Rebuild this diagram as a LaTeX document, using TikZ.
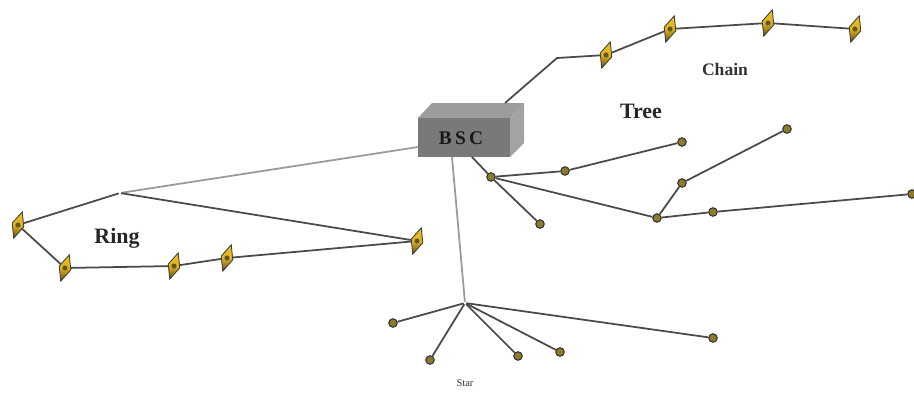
\documentclass[tikz,border=0pt]{standalone}
\usepackage{fontspec}
\setmainfont{Liberation Serif}
\usetikzlibrary{shapes.geometric}
\definecolor{gold}{HTML}{E2B322}
\definecolor{golddark}{HTML}{5E4A12}
\definecolor{olivenode}{HTML}{8C7A2E}
\definecolor{linkdark}{HTML}{4A4A4A}
\definecolor{linklight}{HTML}{9A9A9A}
\tikzset{
  dnode/.style={diamond, aspect=0.45, minimum width=0.25cm, minimum height=0.56cm, inner sep=0pt,
    rotate=-18, top color=gold!80!yellow, bottom color=golddark, middle color=gold, draw=black!75, line width=0.5pt,
    path picture={\fill[olivenode!70!black] (path picture bounding box.center) circle (1.5pt);}},
  cnode/.style={circle, minimum size=0.17cm, inner sep=0pt, fill=olivenode, draw=black!80, line width=0.6pt},
  hub/.style={inner sep=0pt, minimum size=1pt},
  link/.style={draw=linkdark, line width=1pt},
  lightlink/.style={draw=linklight, line width=1pt},
  lbl/.style={font=\bfseries, text=black!85},
}
\begin{document}
\begin{tikzpicture}[x=0.02cm, y=-0.02cm]
\useasboundingbox (0,0) rectangle (914,393);
% BSC box
\fill[gray!78] (418,118) -- (432,103) -- (524,103) -- (510,118) -- cycle;
\fill[gray!72] (510,118) -- (524,103) -- (524,143) -- (510,157) -- cycle;
\fill[gray!95!black] (418,118) rectangle (510,157);
\node[font=\bfseries\fontsize{11}{11}\selectfont, text=black!90] (bsc) at (461,138) {B\,S\,C};
\coordinate (bscTR) at (505,103);
\coordinate (bscL) at (418,147);
\coordinate (bscB1) at (452,157);
\coordinate (bscB2) at (472,157);
% Chain
\coordinate (cbend) at (557,58);
\node[dnode] (c1) at (606,55) {};
\node[dnode] (c2) at (670,29) {};
\node[dnode] (c3) at (768,23) {};
\node[dnode] (c4) at (855,29) {};
\draw[link] (bscTR) -- (cbend) -- (c1) -- (c2) -- (c3) -- (c4);
\node[font=\fontsize{10}{10}\selectfont\bfseries, text=black!80] (chainl) at (725,69) {Chain};
% Ring
\node[hub] (rj) at (120,193) {};
\node[dnode] (r1) at (18,225) {};
\node[dnode] (r2) at (65,268) {};
\node[dnode] (r3) at (174,266) {};
\node[dnode] (r4) at (227,258) {};
\node[dnode] (r5) at (417,241) {};
\draw[lightlink] (bscL) -- (rj);
\draw[link] (rj) -- (r1);
\draw[link] (rj) -- (r5);
\draw[link] (r1) -- (r2) -- (r3) -- (r4) -- (r5);
\node[lbl, font=\bfseries\fontsize{12.5}{12.5}\selectfont] (ringl) at (117,238) {Ring};
% Star
\node[hub] (sc) at (465,303) {};
\node[cnode] (s1) at (393,323) {};
\node[cnode] (s2) at (430,360) {};
\node[cnode] (s3) at (518,356) {};
\node[cnode] (s4) at (560,352) {};
\node[cnode] (s5) at (713,338) {};
\draw[lightlink] (bscB1) -- (sc);
\foreach \n in {s1,s2,s3,s4,s5} \draw[link] (sc) -- (\n);
\node[font=\fontsize{6}{6}\selectfont, text=black!80] (starl) at (465,383) {Star};
% Tree
\node[cnode] (t0) at (491,177) {};
\node[cnode] (ta) at (565,171) {};
\node[cnode] (tb) at (682,142) {};
\node[cnode] (tc) at (540,224) {};
\node[cnode] (td) at (657,218) {};
\node[cnode] (te) at (682,183) {};
\node[cnode] (tf) at (787,129) {};
\node[cnode] (tg) at (713,212) {};
\node[cnode] (th) at (912,194) {};
\draw[link] (bscB2) -- (t0);
\draw[link] (t0) -- (ta) -- (tb);
\draw[link] (t0) -- (tc);
\draw[link] (t0) -- (td) -- (te) -- (tf);
\draw[link] (td) -- (tg) -- (th);
\node[lbl, font=\bfseries\fontsize{12.5}{12.5}\selectfont] (treel) at (641,111) {Tree};
\end{tikzpicture}
\end{document}
